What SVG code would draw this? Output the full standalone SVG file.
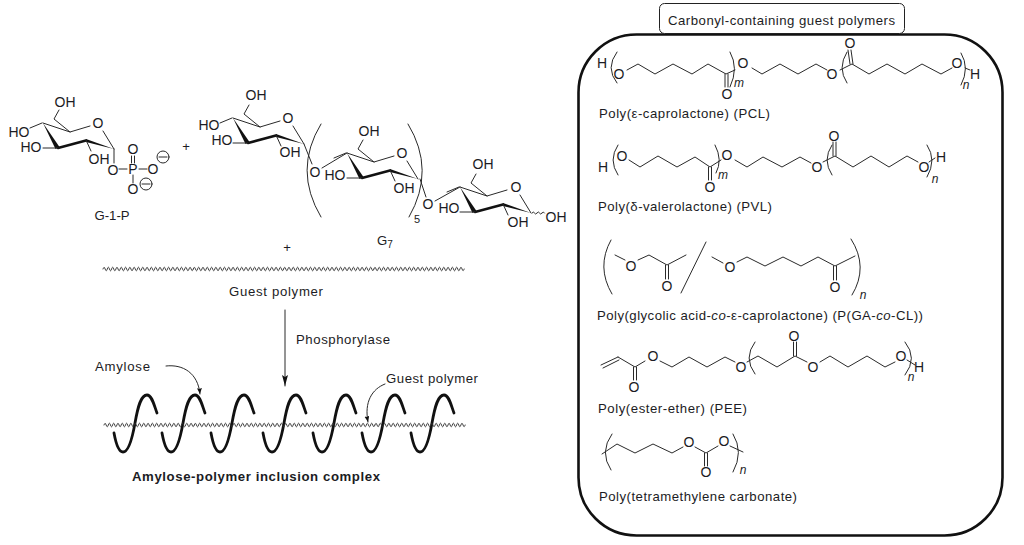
<svg xmlns="http://www.w3.org/2000/svg" xmlns:xlink="http://www.w3.org/1999/xlink" width="1024" height="545" viewBox="0 0 1024 545">
<style>
text{font-family:"Liberation Sans",Arial,sans-serif;fill:#1c1c24}
.a{font-size:14px;text-anchor:middle}
.l{font-size:13.2px}
.m{font-size:13.2px;text-anchor:middle}
.n{font-size:12px;font-style:italic;text-anchor:middle}
.b,path,polyline,line{fill:none;stroke:#2a2a2a;stroke-width:1;stroke-linecap:round;stroke-linejoin:round}
.arr{marker-end:url(#head)}
.arr2{marker-end:url(#head2)}
.helix{stroke:#111;stroke-width:2.8}
.wave{stroke:#333;stroke-width:.9}
</style>
<defs>
<marker id="head" markerUnits="userSpaceOnUse" markerWidth="12" markerHeight="8" refX="11" refY="3" orient="auto"><polygon points="0,0 11,3 0,6 2,3" fill="#111"/></marker>
<marker id="head2" markerUnits="userSpaceOnUse" markerWidth="7" markerHeight="6" refX="6" refY="2.500" orient="auto"><polygon points="0,0 6,2.500 0,5 1,2.500" fill="#111"/></marker>
<g id="ring">
<polyline points="0,0 27,9 47,3"/>
<polyline points="60,8 71,26"/>
<polygon points="0,0 12.500,26 16.500,24" fill="#111"/>
<line x1="15" y1="25" x2="43" y2="17.500" style="stroke-width:2.600;stroke:#111"/>
<polygon points="43,16 43,19 71,26" fill="#111"/>
<polyline points="27,9 11,-4 16,-13"/>
<line x1="-13" y1="5" x2="-1" y2="0"/>
<line x1="0" y1="25" x2="15" y2="25"/>
<line x1="43" y1="17" x2="48" y2="28"/>
</g>
<path id="hx" class="helix" d="M0 0C2 11 5 19 9 19C14 19 18 7 21 -10C24 -27 27 -38 33 -38C38 -38 40 -28 43 -20"/>
<path id="wv" class="wave" d="M0 0q1.075 -3.6 2.150 0t2.150 0t2.150 0t2.150 0t2.150 0t2.150 0t2.150 0t2.150 0t2.150 0t2.150 0t2.150 0t2.150 0t2.150 0t2.150 0t2.150 0t2.150 0t2.150 0t2.150 0t2.150 0t2.150 0t2.150 0t2.150 0t2.150 0t2.150 0t2.150 0t2.150 0t2.150 0t2.150 0t2.150 0t2.150 0t2.150 0t2.150 0t2.150 0t2.150 0t2.150 0t2.150 0t2.150 0t2.150 0t2.150 0t2.150 0t2.150 0t2.150 0"/>
</defs>
<rect width="1024" height="545" fill="#fff"/>

<g id="g1p">
<use href="#ring" x="43" y="123"/>
<text class="a" x="65" y="107">OH</text><text class="a" x="19" y="137">HO</text><text class="a" x="31" y="152">HO</text><text class="a" x="99" y="164">OH</text><text class="a" x="98" y="128">O</text>
<line x1="114" y1="149" x2="114" y2="163"/>
<text class="a" x="113" y="175">O</text><text class="a" x="133" y="174">P</text><text class="a" x="153" y="174">O</text><text class="a" x="133" y="154">O</text><text class="a" x="133" y="194">O</text>
<line x1="119" y1="169" x2="127" y2="169"/><line x1="139" y1="169" x2="147" y2="169"/>
<line x1="131.500" y1="156" x2="131.500" y2="163"/><line x1="134.500" y1="156" x2="134.500" y2="163"/><line x1="133" y1="175" x2="133" y2="183"/>
<circle class="b" cx="163" cy="157" r="6"/><line x1="159" y1="157" x2="167" y2="157"/>
<circle class="b" cx="146" cy="184" r="6"/><line x1="142" y1="184" x2="150" y2="184"/>
<text class="m" x="112" y="220">G-1-P</text>
</g>
<text id="plus1" class="m" x="186" y="151">+</text>

<g id="g7">
<use href="#ring" x="233" y="118"/><use href="#ring" x="347" y="153"/><use href="#ring" x="460" y="187"/>
<text class="a" x="256" y="100">OH</text><text class="a" x="209" y="130">HO</text><text class="a" x="222" y="145">HO</text><text class="a" x="290" y="157">OH</text><text class="a" x="288" y="123">O</text>
<text class="a" x="369" y="136">OH</text><text class="a" x="335" y="180">HO</text><text class="a" x="404" y="193">OH</text><text class="a" x="402" y="158">O</text>
<text class="a" x="483" y="169">OH</text><text class="a" x="449" y="213">HO</text><text class="a" x="518" y="227">OH</text><text class="a" x="516" y="192">O</text><text class="a" x="556" y="222">OH</text>
<text class="a" x="315" y="177">O</text><text class="a" x="428" y="209">O</text>
<line x1="304" y1="144" x2="312" y2="164"/><line x1="322" y1="168" x2="347" y2="153"/><line x1="420" y1="179" x2="426" y2="197"/><line x1="435" y1="201" x2="460" y2="187"/>
<path d="M532 213q1.500 -2 2.500 0t2.500 0t2.500 0t2.500 0t2.500 0"/>
<path d="M321 124Q293 170 321 217"/><path d="M408 124Q436 170 409 217"/>
<text class="m" x="417" y="223" style="font-size:11px">5</text>
<text class="m" x="385" y="245">G<tspan dy="3" font-size="10">7</tspan></text>
</g>
<text id="plus2" class="m" x="287" y="252">+</text>

<g id="guest">
<use href="#wv" x="103" y="269"/><use href="#wv" x="193.300" y="269"/><use href="#wv" x="283.600" y="269"/><use href="#wv" x="373.900" y="269"/>
<text class="l" x="229" y="296" textLength="94" lengthAdjust="spacing">Guest polymer</text>
</g>

<g id="connectors">
<line class="arr" x1="285" y1="310" x2="285" y2="386"/>
<path class="arr2" d="M166 366C183 364 198 373 200 394"/>
<path class="arr2" d="M385 384C372 389 364 402 368 422"/>
</g>
<text id="enzyme" class="l" x="296" y="344" textLength="94" lengthAdjust="spacing">Phosphorylase</text>

<g id="complex">
<use href="#hx" x="114" y="433"/><use href="#hx" x="162" y="433"/><use href="#hx" x="211" y="433"/><use href="#hx" x="263" y="433"/><use href="#hx" x="313" y="433"/><use href="#hx" x="362" y="433"/><use href="#hx" x="411" y="433"/>
<use href="#wv" x="104" y="425"/><use href="#wv" x="194.300" y="425"/><use href="#wv" x="284.600" y="425"/><use href="#wv" x="374.900" y="425"/>
<text class="l" x="95" y="371" textLength="55" lengthAdjust="spacing">Amylose</text>
<text class="l" x="386" y="383" textLength="92" lengthAdjust="spacing">Guest polymer</text>
<text class="l" x="132" y="481" font-weight="bold" textLength="248" lengthAdjust="spacing">Amylose-polymer inclusion complex</text>
</g>

<g id="panel">
<rect x="578.500" y="34.500" width="424" height="501" rx="58" ry="58" fill="#fff" stroke="#111" stroke-width="2.600"/>
<rect x="659.500" y="3.500" width="245" height="30" rx="5" ry="5" fill="#fff" stroke="#222" stroke-width="1"/>
<text class="l" x="668" y="25" textLength="227" lengthAdjust="spacing">Carbonyl-containing guest polymers</text>
</g>

<g id="pcl">
<text class="a" x="602" y="68">H</text><path d="M617 52Q605 68 617 83"/>
<text class="a" x="619" y="79">O</text>
<polyline points="627,70 638,64 655,74 673,64 692,74 708,64 726,74 735,70"/>
<line x1="725" y1="74" x2="725" y2="87"/><line x1="728" y1="74" x2="728" y2="87"/>
<text class="a" x="727" y="99">O</text><path d="M730 52Q739 68 730 87"/><text class="n" x="739" y="87">m</text>
<text class="a" x="743" y="68">O</text>
<polyline points="752,68 762,74 780,64 798,74 816,64 827,70"/>
<text class="a" x="832" y="79">O</text>
<polyline points="840,70 852,64 869,74 887,64 905,74 922,64 941,74 952,68"/>
<line x1="848" y1="50" x2="850" y2="64"/><line x1="851" y1="50" x2="853" y2="64"/>
<text class="a" x="850" y="48">O</text><path d="M847 52Q837 68 847 83"/>
<text class="a" x="957" y="68">O</text><path d="M961 53Q970 68 961 85"/><line x1="965" y1="68" x2="970" y2="70"/>
<text class="a" x="975" y="79">H</text><text class="n" x="966" y="89">n</text>
<text class="l" x="599" y="118" textLength="171" lengthAdjust="spacing">Poly(ε-caprolactone) (PCL)</text>
</g>

<g id="pvl">
<text class="a" x="603" y="172">H</text><path d="M618 145Q608 160 618 175"/><text class="a" x="622" y="161">O</text>
<polyline points="629,160 640,167 658,156 677,167 695,157 710,167 721,160"/>
<line x1="708.500" y1="167" x2="708.500" y2="180"/><line x1="711.500" y1="167" x2="711.500" y2="180"/>
<text class="a" x="710" y="192">O</text><path d="M715 145Q723 160 716 173"/><text class="n" x="723" y="179">m</text>
<text class="a" x="727" y="160">O</text>
<polyline points="735,160 747,167 763,157 782,167 800,157 811,163"/><text class="a" x="817" y="172">O</text>
<polyline points="823,162 835,156 853,167 871,156 889,167 907,156 918,162"/>
<line x1="833" y1="142" x2="833" y2="156"/><line x1="836" y1="142" x2="836" y2="156"/>
<text class="a" x="834" y="141">O</text><path d="M832 145Q822 160 832 175"/>
<text class="a" x="924" y="172">O</text><path d="M927 145Q937 160 927 177"/><line x1="929" y1="162" x2="935" y2="158"/>
<text class="a" x="941" y="162">H</text><text class="n" x="935" y="183">n</text>
<text class="l" x="598" y="211" textLength="174" lengthAdjust="spacing">Poly(δ-valerolactone) (PVL)</text>
</g>

<g id="pgacl">
<path d="M611 240Q596 267 612 294"/><polyline points="615,255 625,260"/><text class="a" x="631" y="271">O</text>
<polyline points="638,260 649,255 667,265 686,255"/>
<line x1="665.500" y1="265" x2="665.500" y2="279"/><line x1="668.500" y1="265" x2="668.500" y2="279"/><text class="a" x="667" y="291">O</text>
<line x1="706" y1="242" x2="681" y2="293"/>
<polyline points="712,257 723,263"/><text class="a" x="730" y="272">O</text>
<polyline points="737,262 747,257 765,266 783,257 801,266 818,257 835,266 855,256"/>
<line x1="833.500" y1="266" x2="833.500" y2="280"/><line x1="836.500" y1="266" x2="836.500" y2="280"/><text class="a" x="835" y="292">O</text>
<path d="M851 239Q869 267 852 295"/><text class="n" x="863" y="299">n</text>
<text class="l" x="597" y="320" textLength="326" lengthAdjust="spacing">Poly(glycolic acid-<tspan font-style="italic">co</tspan>-ε-caprolactone) (P(GA-<tspan font-style="italic">co</tspan>-CL))</text>
</g>

<g id="pee">
<line x1="601" y1="365" x2="618" y2="357"/><line x1="603" y1="368" x2="619" y2="360"/>
<polyline points="618,357 635,367 645,361"/>
<line x1="633.500" y1="367" x2="633.500" y2="380"/><line x1="636.500" y1="367" x2="636.500" y2="380"/><text class="a" x="634" y="392">O</text>
<text class="a" x="653" y="361">O</text><polyline points="660,361 672,367 689,357 707,367 725,357 735,362"/><text class="a" x="741" y="372">O</text>
<polyline points="747,362 758,356 777,367 795,356 807,362"/>
<line x1="793.500" y1="342" x2="793.500" y2="356"/><line x1="796.500" y1="342" x2="796.500" y2="356"/><text class="a" x="794" y="341">O</text>
<text class="a" x="813" y="372">O</text><polyline points="820,362 830,356 848,367 867,356 885,367 895,362"/><text class="a" x="901" y="361">O</text>
<path d="M755 342Q743 358 755 374"/><path d="M905 342Q918 358 905 375"/><line x1="907" y1="360" x2="915" y2="365"/>
<text class="a" x="919" y="372">H</text><text class="n" x="911" y="381">n</text>
<text class="l" x="598" y="413" textLength="149" lengthAdjust="spacing">Poly(ester-ether) (PEE)</text>
</g>

<g id="ptmc">
<path d="M612 434Q599 452 611 470"/><polyline points="602,454 617,444 635,453 653,444 672,453 683,447"/><text class="a" x="689" y="447">O</text>
<polyline points="695,447 706,453 718,446"/>
<line x1="704.500" y1="453" x2="704.500" y2="466"/><line x1="707.500" y1="453" x2="707.500" y2="466"/><text class="a" x="706" y="477">O</text>
<text class="a" x="724" y="446">O</text><line x1="730" y1="446" x2="743" y2="452"/>
<path d="M733 434Q744 452 733 472"/><text class="n" x="743" y="474">n</text>
<text class="l" x="599" y="501" textLength="198" lengthAdjust="spacing">Poly(tetramethylene carbonate)</text>
</g>
</svg>
